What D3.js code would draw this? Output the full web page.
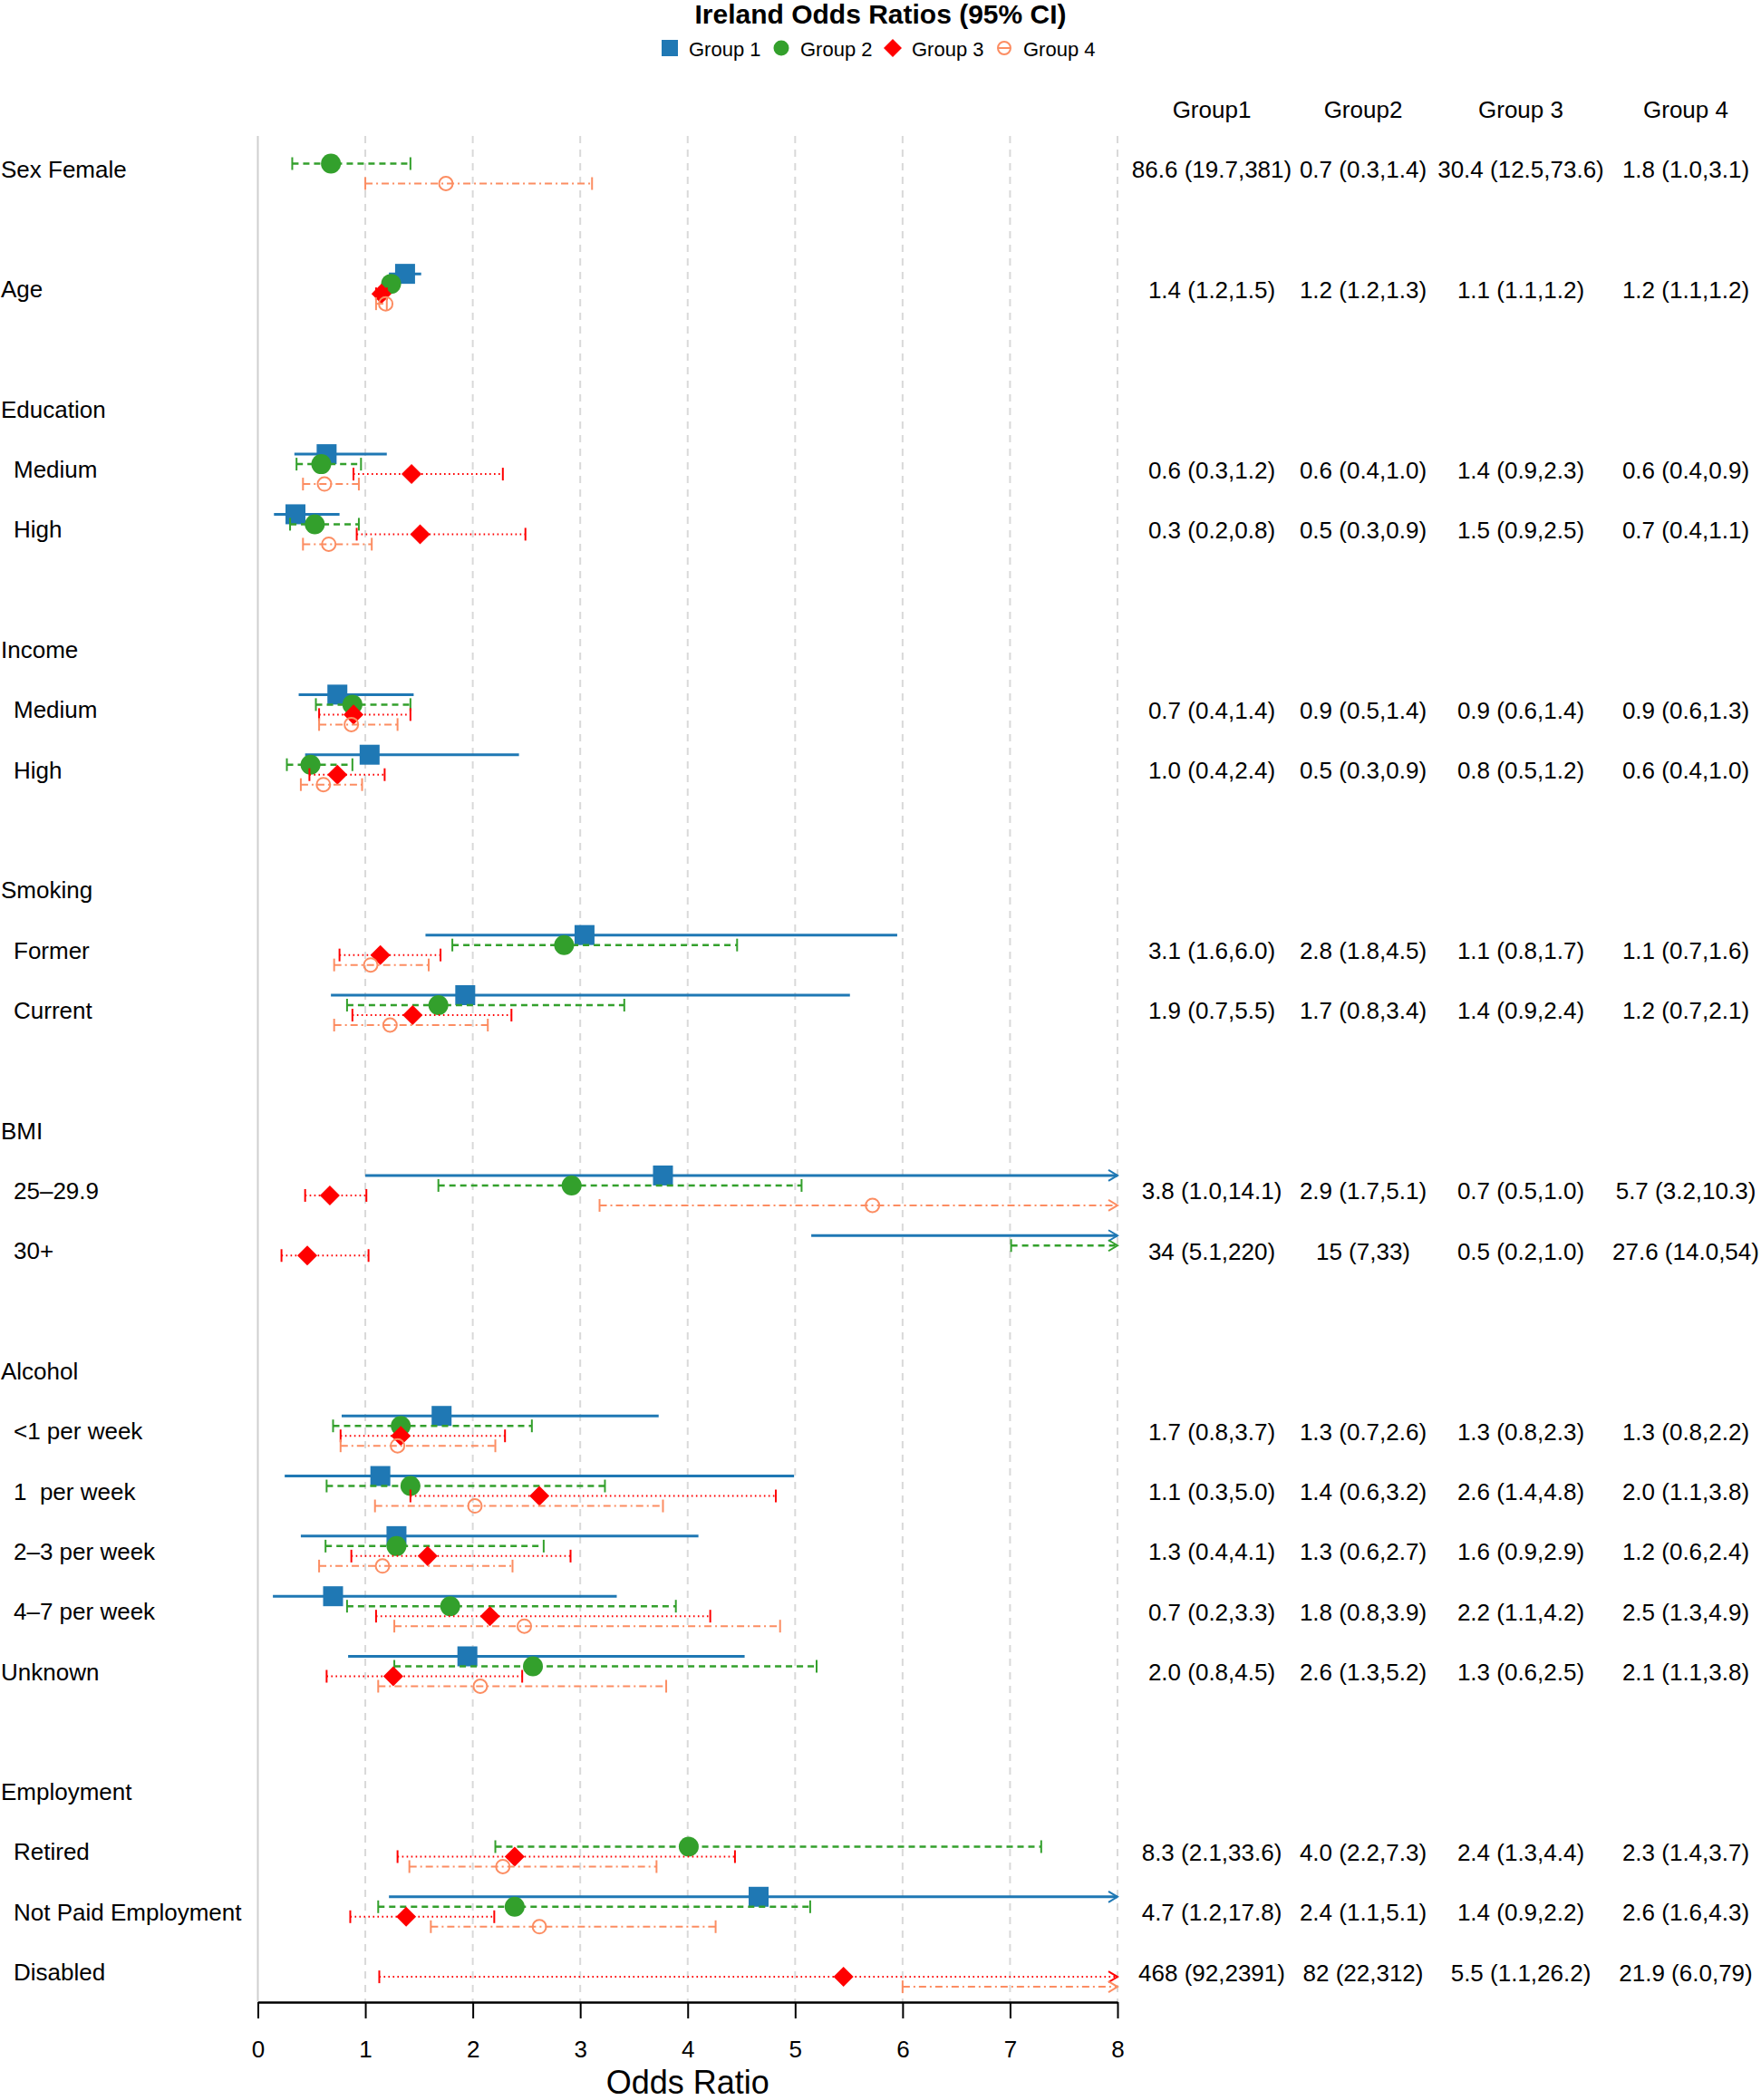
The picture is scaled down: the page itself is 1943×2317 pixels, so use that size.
<!DOCTYPE html>
<html><head><meta charset="utf-8">
<script src="https://cdn.jsdelivr.net/npm/d3@7"></script>
<style>
body{margin:0;background:#fff}
svg{display:block}
text{font-family:"Liberation Sans",Arial,Helvetica,sans-serif;fill:#000}
</style>
</head><body>
<svg id="chart" width="1943" height="2317"></svg>
<script>
// ---------------- DATA ----------------
const chartTitle = "Ireland Odds Ratios (95% CI)";
const groupNames = ["Group 1", "Group 2", "Group 3", "Group 4"];
const columnHeaders = ["Group1", "Group2", "Group 3", "Group 4"];
const xTicks = [0, 1, 2, 3, 4, 5, 6, 7, 8];
const xTitle = "Odds Ratio";

// one entry per plot row ("" = empty spacer row)
const rowLabels = ["Sex Female", "", "Age", "", "Education", "Medium", "High", "",
  "Income", "Medium", "High", "", "Smoking", "Former", "Current", "",
  "BMI", "25\u201329.9", "30+", "", "Alcohol", "<1 per week", "1  per week",
  "2\u20133 per week", "4\u20137 per week", "Unknown", "",
  "Employment", "Retired", "Not Paid Employment", "Disabled"];
const indentedRows = [5, 6, 9, 10, 13, 14, 17, 18, 21, 22, 23, 24, 28, 29, 30];

// Group 1 (blue, solid)
const g1Est = [86.6,null,1.37,null,null,0.64,0.35,null,null,0.74,1.04,null,null,3.04,1.93,null,null,3.77,34,null,null,1.71,1.14,1.29,0.70,1.95,null,null,null,4.66,468];
const g1Lo  = [19.7,null,1.22,null,null,0.34,0.15,null,null,0.38,0.44,null,null,1.56,0.68,null,null,1.00,5.15,null,null,0.78,0.25,0.40,0.14,0.84,null,null,null,1.22,92];
const g1Hi  = [381,null,1.52,null,null,1.20,0.76,null,null,1.45,2.43,null,null,5.95,5.51,null,null,14.1,220,null,null,3.73,4.99,4.10,3.34,4.53,null,null,null,17.8,2391];
// Group 2 (green, dashed)
const g2Est = [0.68,null,1.24,null,null,0.59,0.53,null,null,0.88,0.49,null,null,2.85,1.68,null,null,2.92,15,null,null,1.33,1.42,1.29,1.79,2.56,null,null,4.01,2.39,82];
const g2Lo  = [0.32,null,1.20,null,null,0.36,0.30,null,null,0.54,0.27,null,null,1.81,0.83,null,null,1.68,7.01,null,null,0.70,0.64,0.63,0.83,1.27,null,null,2.21,1.12,22];
const g2Hi  = [1.42,null,1.30,null,null,0.96,0.94,null,null,1.42,0.88,null,null,4.46,3.41,null,null,5.06,33,null,null,2.55,3.23,2.66,3.89,5.20,null,null,7.29,5.14,312];
// Group 3 (red, dotted)
const g3Est = [30.4,null,1.15,null,null,1.43,1.51,null,null,0.89,0.74,null,null,1.14,1.44,null,null,0.67,0.46,null,null,1.33,2.62,1.58,2.16,1.26,null,null,2.39,1.38,5.45];
const g3Lo  = [12.5,null,1.10,null,null,0.89,0.92,null,null,0.57,0.48,null,null,0.76,0.88,null,null,0.44,0.22,null,null,0.77,1.42,0.87,1.10,0.64,null,null,1.30,0.86,1.13];
const g3Hi  = [73.6,null,1.20,null,null,2.28,2.49,null,null,1.42,1.18,null,null,1.70,2.36,null,null,1.01,1.03,null,null,2.30,4.82,2.91,4.21,2.46,null,null,4.44,2.20,26.2];
// Group 4 (orange, dot-dash)
const g4Est = [1.75,null,1.19,null,null,0.62,0.66,null,null,0.87,0.61,null,null,1.05,1.23,null,null,5.72,27.6,null,null,1.30,2.02,1.16,2.48,2.07,null,null,2.28,2.62,21.9];
const g4Lo  = [1.00,null,1.10,null,null,0.42,0.42,null,null,0.57,0.40,null,null,0.71,0.71,null,null,3.18,14.0,null,null,0.77,1.09,0.57,1.27,1.12,null,null,1.41,1.61,6.0];
const g4Hi  = [3.11,null,1.20,null,null,0.94,1.06,null,null,1.30,0.97,null,null,1.59,2.14,null,null,10.3,54,null,null,2.21,3.77,2.37,4.86,3.80,null,null,3.71,4.26,79];

// table text, one array per column
const t1 = ["86.6 (19.7,381)","","1.4 (1.2,1.5)","","","0.6 (0.3,1.2)","0.3 (0.2,0.8)","","","0.7 (0.4,1.4)","1.0 (0.4,2.4)","","","3.1 (1.6,6.0)","1.9 (0.7,5.5)","","","3.8 (1.0,14.1)","34 (5.1,220)","","","1.7 (0.8,3.7)","1.1 (0.3,5.0)","1.3 (0.4,4.1)","0.7 (0.2,3.3)","2.0 (0.8,4.5)","","","8.3 (2.1,33.6)","4.7 (1.2,17.8)","468 (92,2391)"];
const t2 = ["0.7 (0.3,1.4)","","1.2 (1.2,1.3)","","","0.6 (0.4,1.0)","0.5 (0.3,0.9)","","","0.9 (0.5,1.4)","0.5 (0.3,0.9)","","","2.8 (1.8,4.5)","1.7 (0.8,3.4)","","","2.9 (1.7,5.1)","15 (7,33)","","","1.3 (0.7,2.6)","1.4 (0.6,3.2)","1.3 (0.6,2.7)","1.8 (0.8,3.9)","2.6 (1.3,5.2)","","","4.0 (2.2,7.3)","2.4 (1.1,5.1)","82 (22,312)"];
const t3 = ["30.4 (12.5,73.6)","","1.1 (1.1,1.2)","","","1.4 (0.9,2.3)","1.5 (0.9,2.5)","","","0.9 (0.6,1.4)","0.8 (0.5,1.2)","","","1.1 (0.8,1.7)","1.4 (0.9,2.4)","","","0.7 (0.5,1.0)","0.5 (0.2,1.0)","","","1.3 (0.8,2.3)","2.6 (1.4,4.8)","1.6 (0.9,2.9)","2.2 (1.1,4.2)","1.3 (0.6,2.5)","","","2.4 (1.3,4.4)","1.4 (0.9,2.2)","5.5 (1.1,26.2)"];
const t4 = ["1.8 (1.0,3.1)","","1.2 (1.1,1.2)","","","0.6 (0.4,0.9)","0.7 (0.4,1.1)","","","0.9 (0.6,1.3)","0.6 (0.4,1.0)","","","1.1 (0.7,1.6)","1.2 (0.7,2.1)","","","5.7 (3.2,10.3)","27.6 (14.0,54)","","","1.3 (0.8,2.2)","2.0 (1.1,3.8)","1.2 (0.6,2.4)","2.5 (1.3,4.9)","2.1 (1.1,3.8)","","","2.3 (1.4,3.7)","2.6 (1.6,4.3)","21.9 (6.0,79)"];

// ---------------- STYLE ----------------
const colors = ["#1f78b4", "#33a02c", "#ff0000", "#fc8d62"];
const dashes = [null, "7,5", "1.6,3.4", "8,4,2,4"];
const widths = [3, 2.5, 2, 2];
const offsets = [-16.5, -5.5, 5.5, 16.5];

const svg = d3.select("#chart");
const x = d3.scaleLinear().domain([0, 8]).range([284.5, 1233]);
const y = d3.scaleLinear().domain([0, 30]).range([186, 2175.6]);
const axisY = 2209, gridTop = 150;
const xmax = x.domain()[1];

// title
svg.append("text").attr("x", 971.5).attr("y", 26).attr("text-anchor", "middle")
  .style("font-size", "30px").style("font-weight", "bold").text(chartTitle);

// legend
const legStep = 123, legX0 = 739, legY = 53;
const leg = svg.append("g");
groupNames.forEach((g, i) => {
  const cx = legX0 + i * legStep;
  const gg = leg.append("g").attr("transform", `translate(${cx},${legY})`);
  if (i === 0) gg.append("path").attr("d", d3.symbol(d3.symbolSquare, 324)()).attr("fill", colors[0]);
  if (i === 1) gg.append("path").attr("d", d3.symbol(d3.symbolCircle, 227)()).attr("fill", colors[1]);
  if (i === 2) gg.append("path").attr("d", d3.symbol(d3.symbolSquare, 200)()).attr("transform", "rotate(45)").attr("fill", colors[2]);
  if (i === 3) {
    gg.append("circle").attr("r", 7).attr("fill", "none").attr("stroke", colors[3]).attr("stroke-width", 2);
    gg.append("line").attr("x1", -7).attr("x2", 7).attr("stroke", colors[3]).attr("stroke-width", 2);
  }
  leg.append("text").attr("x", cx + 21).attr("y", legY + 8.5).style("font-size", "22px").text(g);
});

// grid
svg.append("g").selectAll("line").data(xTicks.filter(d => d > 0)).join("line")
  .attr("x1", d => x(d)).attr("x2", d => x(d)).attr("y1", gridTop).attr("y2", axisY)
  .attr("stroke", "#d9d9d9").attr("stroke-width", 2).attr("stroke-dasharray", "8,7");
svg.append("line").attr("x1", x(0)).attr("x2", x(0)).attr("y1", gridTop).attr("y2", axisY)
  .attr("stroke", "#cfcfcf").attr("stroke-width", 2);

// row labels
svg.append("g").selectAll("text").data(rowLabels.map((l, i) => ({l, i})).filter(d => d.l !== ""))
  .join("text")
  .attr("x", d => indentedRows.includes(d.i) ? 15 : 1)
  .attr("y", d => y(d.i) + 9.5)
  .style("font-size", "26px").style("white-space", "pre")
  .text(d => d.l);

// column headers & table values
const colX = [1337, 1504, 1678, 1860];
const tables = [t1, t2, t3, t4];
columnHeaders.forEach((h, j) => {
  svg.append("text").attr("x", colX[j]).attr("y", 130).attr("text-anchor", "middle")
    .style("font-size", "26px").text(h);
  svg.append("g").selectAll("text").data(tables[j].map((t, i) => ({t, i})).filter(d => d.t !== ""))
    .join("text").attr("x", colX[j]).attr("y", d => y(d.i) + 10).attr("text-anchor", "middle")
    .style("font-size", "26px").text(d => d.t);
});

// intervals & markers
const groups = [[g1Est, g1Lo, g1Hi], [g2Est, g2Lo, g2Hi], [g3Est, g3Lo, g3Hi], [g4Est, g4Lo, g4Hi]];
const plot = svg.append("g");
groups.forEach(([est, lo, hi], gi) => {
  const col = colors[gi];
  est.forEach((e, i) => {
    if (e === null || lo[i] >= xmax) return;
    const yy = y(i) + offsets[gi];
    const arrow = hi[i] > xmax;
    const x1 = x(lo[i]), x2 = x(Math.min(hi[i], xmax));
    const ln = plot.append("line").attr("x1", x1).attr("x2", x2).attr("y1", yy).attr("y2", yy)
      .attr("stroke", col).attr("stroke-width", widths[gi]);
    if (dashes[gi]) ln.attr("stroke-dasharray", dashes[gi]);
    if (gi > 0) {
      plot.append("line").attr("x1", x1).attr("x2", x1).attr("y1", yy - 7).attr("y2", yy + 7)
        .attr("stroke", col).attr("stroke-width", 2);
      if (!arrow) plot.append("line").attr("x1", x2).attr("x2", x2).attr("y1", yy - 7).attr("y2", yy + 7)
        .attr("stroke", col).attr("stroke-width", 2);
    }
    if (arrow) {
      plot.append("path").attr("d", `M${x2 - 10},${yy - 6}L${x2},${yy}L${x2 - 10},${yy + 6}`)
        .attr("fill", "none").attr("stroke", col).attr("stroke-width", 2);
    }
    if (e <= xmax) {
      const m = plot.append("g").attr("transform", `translate(${x(e)},${yy})`);
      if (gi === 0) m.append("path").attr("d", d3.symbol(d3.symbolSquare, 484)()).attr("fill", col);
      if (gi === 1) m.append("path").attr("d", d3.symbol(d3.symbolCircle, 380)()).attr("fill", col);
      if (gi === 2) m.append("path").attr("d", d3.symbol(d3.symbolSquare, 243)()).attr("transform", "rotate(45)").attr("fill", col);
      if (gi === 3) m.append("circle").attr("r", 7.5).attr("fill", "white").attr("fill-opacity", 0).attr("stroke", col).attr("stroke-width", 2);
    }
  });
});

// x axis
const ax = svg.append("g").attr("transform", `translate(0,${axisY})`)
  .call(d3.axisBottom(x).tickValues(xTicks).tickFormat(d3.format("d")).tickSize(18).tickSizeOuter(0).tickPadding(24.5));
ax.select(".domain").attr("stroke", "#000").attr("stroke-width", 2.5);
ax.selectAll(".tick line").attr("stroke", "#000").attr("stroke-width", 2);
ax.selectAll(".tick text").style("font-size", "26px").style("font-family", "'Liberation Sans',Arial,sans-serif");

svg.append("text").attr("x", (x(0) + x(8)) / 2).attr("y", 2309.5).attr("text-anchor", "middle")
  .style("font-size", "36px").text(xTitle);
</script>
</body></html>
